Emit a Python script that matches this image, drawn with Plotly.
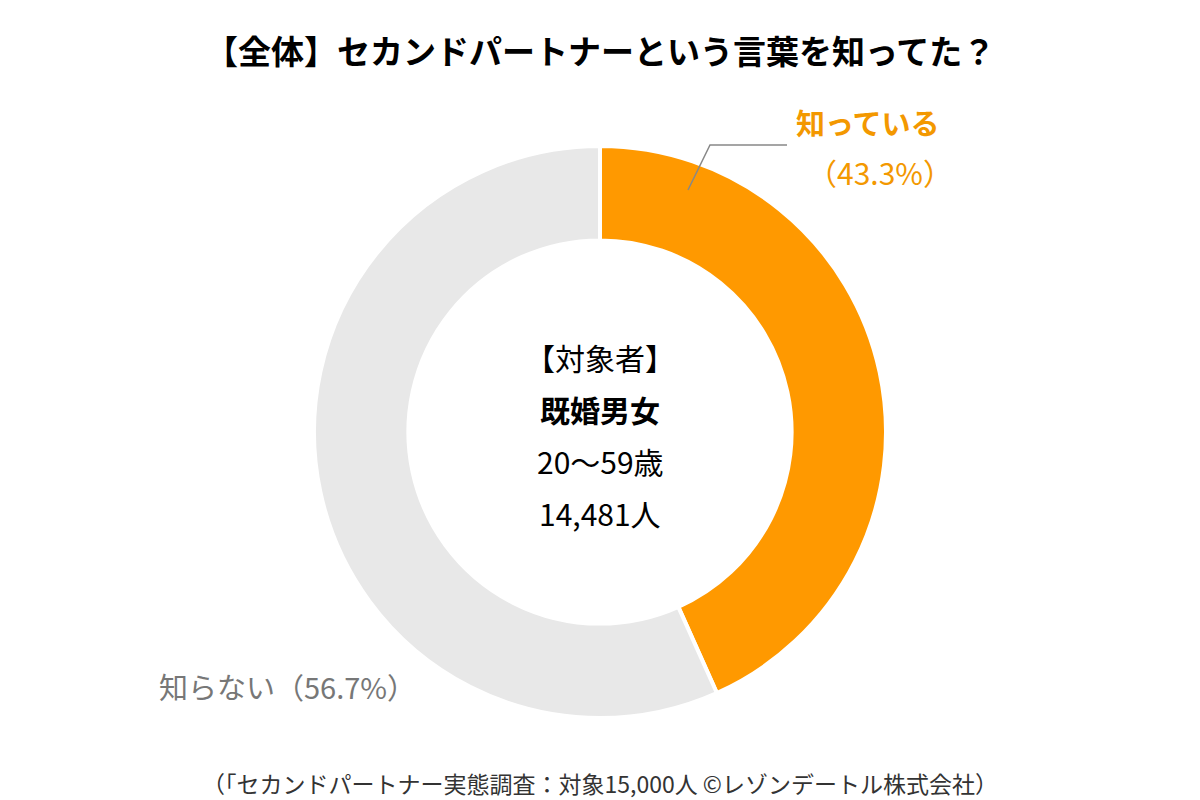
import plotly.graph_objects as go

labels = ["知っている", "知らない"]
values = [43.3, 56.7]
colors = ["#FF9900", "#E8E8E8"]

title = "【全体】セカンドパートナーという言葉を知ってた？"
center_lines = ["【対象者】", "<b>既婚男女</b>", "20～59歳", "14,481人"]
source = "（「セカンドパートナー実態調査：対象15,000人 ©レゾンデートル株式会社）"

W, H = 1200, 800
OFF = 8  # page body margin shifts the figure
FONT = "Noto Sans CJK JP"

def px(x, y):
    return (x - OFF) / W, 1 - (y - OFF) / H

cx, cy, r = 600, 432, 286
dx0, dy1 = px(cx - r, cy - r)
dx1, dy0 = px(cx + r, cy + r)

fig = go.Figure(go.Pie(
    labels=labels, values=values,
    marker=dict(colors=colors, line=dict(color="white", width=4)),
    hole=0.67, sort=False, direction="clockwise", rotation=0,
    textinfo="none", hoverinfo="label+percent",
    domain=dict(x=[dx0, dx1], y=[dy0, dy1]),
    showlegend=False,
))

ann = []
def add(text, x, y, size, color="#000", xanchor="center"):
    ax, ay = px(x, y)
    ann.append(dict(text=text, x=ax, y=ay, xref="paper", yref="paper",
                    showarrow=False, xanchor=xanchor, yanchor="middle",
                    font=dict(family=FONT, size=size, color=color)))

add("<b>" + title + "</b>", 600, 50, 33)
for i, t in enumerate(center_lines):
    add(t, 600, 357 + i * 52, 30)
add("<b>" + labels[0] + "</b>", 868, 122, 29, "#F39800")
add("（%.1f%%）" % values[0], 880, 172, 30, "#F39800")
add(labels[1] + "（%.1f%%）" % values[1], 157, 686, 29, "#777777", "left")
add(source, 600, 783, 23, "#333333")

x0, y0 = px(688, 190)
x1, y1 = px(710, 145)
x2, y2 = px(787, 145)
fig.add_shape(type="path", xref="paper", yref="paper",
              path=f"M {x0},{y0} L {x1},{y1} L {x2},{y2}",
              line=dict(color="#888888", width=1.5))

fig.update_layout(
    width=W, height=H, margin=dict(l=0, r=0, t=0, b=0),
    paper_bgcolor="white", plot_bgcolor="white",
    annotations=ann, font=dict(family=FONT),
)

fig.write_html("out.html")
